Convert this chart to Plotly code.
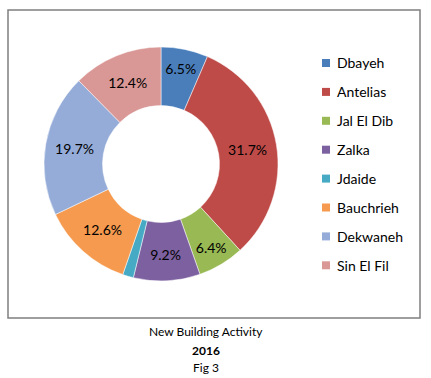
import plotly.graph_objects as go

labels = ["Dbayeh", "Antelias", "Jal El Dib", "Zalka", "Jdaide", "Bauchrieh", "Dekwaneh", "Sin El Fil"]
values = [6.5, 31.7, 6.4, 9.2, 1.5, 12.6, 19.7, 12.4]
colors = ["#4A7EBB", "#BE4B48", "#98B954", "#7D60A0", "#46AAC5", "#F59A4F", "#95ACD8", "#D99795"]
show_label = [True, True, True, True, False, True, True, True]
captions = ["New Building Activity", "<b>2016</b>", "Fig 3"]

W, H = 431, 378
FONT = "Lato"

texts = [f"{v:.1f}%" if s else "" for v, s in zip(values, show_label)]

fig = go.Figure(go.Pie(
    labels=labels, values=values, text=texts,
    textinfo="text", textposition="inside", insidetextorientation="horizontal",
    textfont=dict(family=FONT, size=14, color="#000000"),
    marker=dict(colors=colors, line=dict(color="#FFFFFF", width=0.5)),
    hole=0.5, sort=False, direction="clockwise", rotation=0,
    domain=dict(x=[44 / W, 278 / W], y=[1 - 281 / H, 1 - 47 / H]),
    showlegend=False, hoverinfo="label+percent",
))

shapes = [dict(type="rect", xref="paper", yref="paper",
               x0=8 / W, x1=420 / W, y0=1 - 318 / H, y1=1 - 10 / H,
               line=dict(color="#7F7F7F", width=1.5), fillcolor="rgba(0,0,0,0)")]
annotations = []
for i, (lab, col) in enumerate(zip(labels, colors)):
    yc = 63 + i * 28.9
    shapes.append(dict(type="rect", xref="paper", yref="paper",
                       x0=322 / W, x1=330 / W, y0=1 - (yc + 4) / H, y1=1 - (yc - 4) / H,
                       line=dict(width=0), fillcolor=col))
    annotations.append(dict(text=lab, x=335 / W, y=1 - yc / H, xref="paper", yref="paper",
                            xanchor="left", yanchor="middle", showarrow=False,
                            font=dict(family=FONT, size=14, color="#000000")))

for cap, yc in zip(captions, [331, 350, 367]):
    annotations.append(dict(text=cap, x=206 / W, y=1 - yc / H, xref="paper", yref="paper",
                            xanchor="center", yanchor="middle", showarrow=False,
                            font=dict(family=FONT, size=12, color="#000000")))

fig.update_layout(
    width=W, height=H, margin=dict(l=0, r=0, t=0, b=0),
    paper_bgcolor="#FFFFFF", plot_bgcolor="#FFFFFF",
    shapes=shapes, annotations=annotations,
)

fig.write_html("out.html", config={"displayModeBar": False},
               post_script="document.body.style.margin='0';document.body.style.overflow='hidden';")
